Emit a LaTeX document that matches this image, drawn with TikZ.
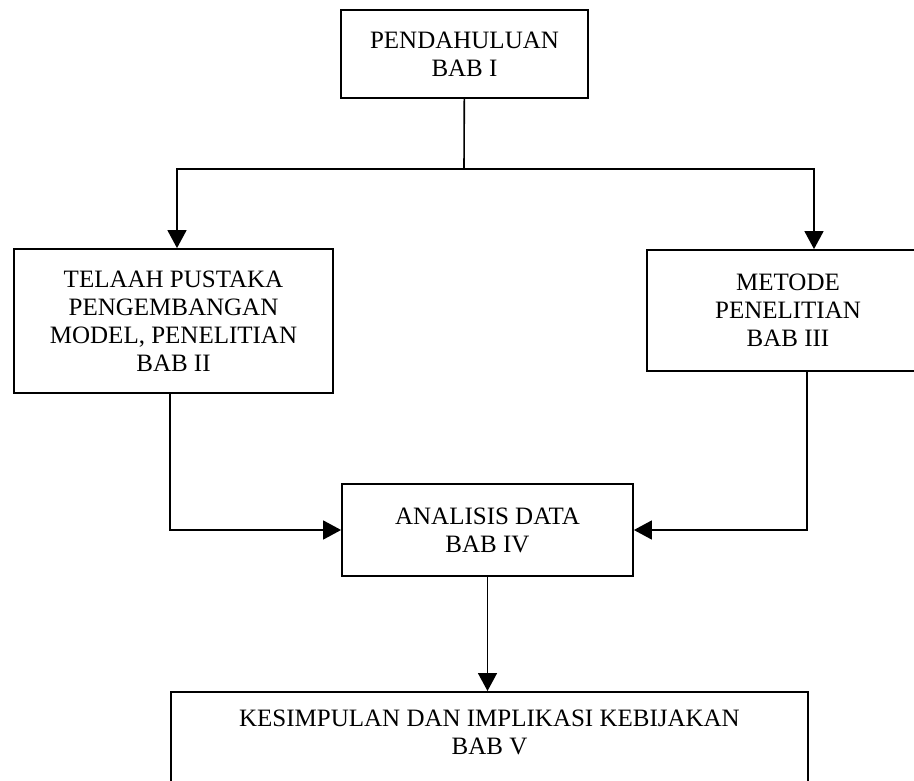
\documentclass[tikz,border=0pt]{standalone}
\usepackage{fontspec}
\setmainfont{Liberation Serif}
\usetikzlibrary{arrows.meta, positioning}
\tikzset{
	babbox/.style={rectangle, draw=black, line width=1.8pt, align=center, inner sep=0pt, font=\fontsize{25}{28}\selectfont},
	arrow/.style={-{Triangle[length=18pt, width=19pt]}, line width=1.6pt, draw=black},
	plain/.style={line width=1.6pt, draw=black},
}

\begin{document}
\begin{tikzpicture}[x=1pt, y=-1pt]
	\useasboundingbox (0,0) rectangle (914,781);
	\clip (0,0) rectangle (914,781);
	\node[babbox, minimum width=247pt, minimum height=88pt] (pend) at (464.5,54) {PENDAHULUAN\\BAB I};
	\node[babbox, minimum width=319pt, minimum height=144pt] (telaah) at (173.5,321) {TELAAH PUSTAKA\\PENGEMBANGAN\\MODEL, PENELITIAN\\BAB II};
	\node[babbox, minimum width=282pt, minimum height=121pt] (metode) at (788,310.5) {METODE\\PENELITIAN\\BAB III};
	\node[babbox, minimum width=291pt, minimum height=92pt] (analisis) at (487.5,530) {ANALISIS DATA\\BAB IV};
	\node[babbox, anchor=north, minimum width=637pt, inner ysep=18pt, text depth=120pt] (kesim) at (489.5,691) {KESIMPULAN DAN IMPLIKASI KEBIJAKAN\\BAB V};
	\coordinate (split) at (464,169);
	\draw[plain] (pend) -- (split);
	\draw[arrow] (split) -| ([xshift=3.5pt]telaah.north);
	\draw[arrow] (split) -| ([xshift=26pt]metode.north);
	\draw[arrow] ([xshift=-3.5pt]telaah.south) |- (analisis.west);
	\draw[arrow] ([xshift=19pt]metode.south) |- (analisis.east);
	\draw[arrow] (analisis.south) -- (analisis.south |- kesim.north);
\end{tikzpicture}
\end{document}
